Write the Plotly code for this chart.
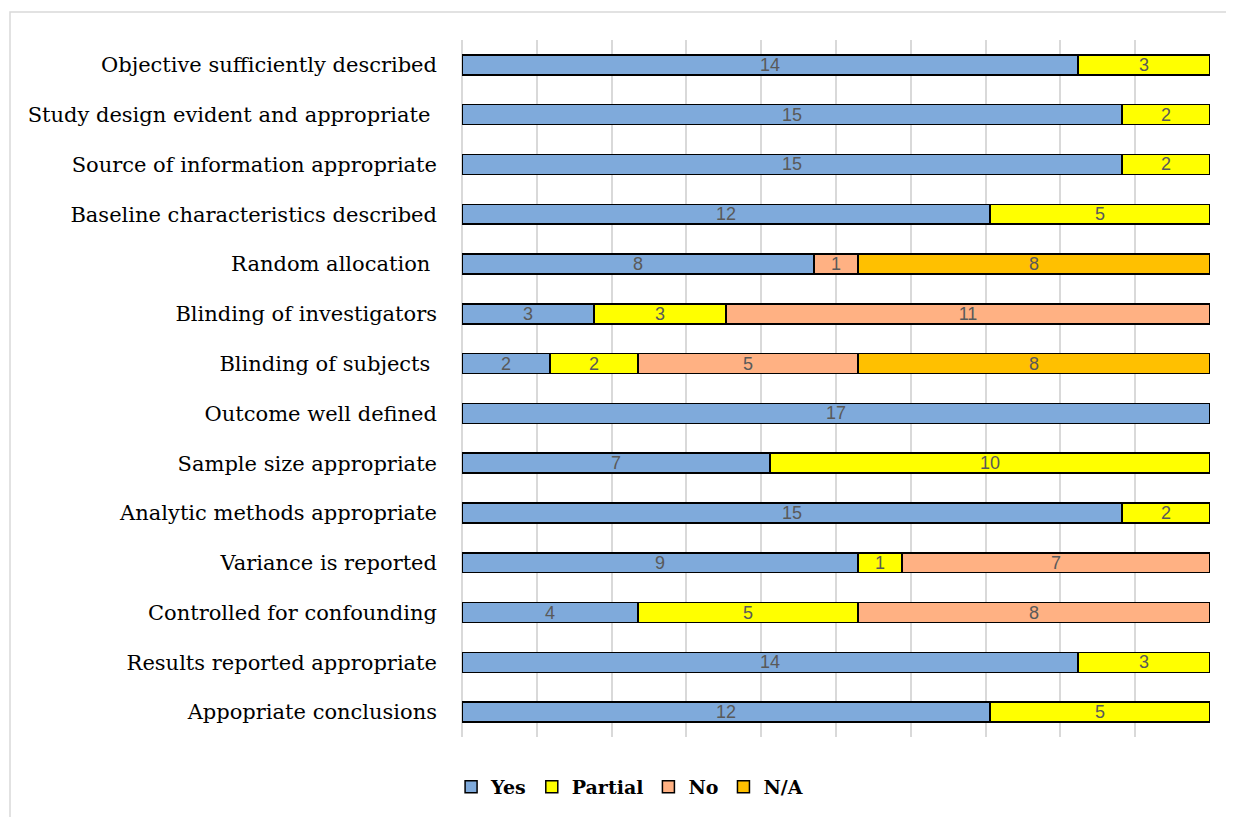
import plotly.graph_objects as go

categories = [
    "Objective sufficiently described",
    "Study design evident and appropriate ",
    "Source of information appropriate",
    "Baseline characteristics described",
    "Random allocation ",
    "Blinding of investigators",
    "Blinding of subjects ",
    "Outcome well defined",
    "Sample size appropriate",
    "Analytic methods appropriate",
    "Variance is reported",
    "Controlled for confounding",
    "Results reported appropriate",
    "Appopriate conclusions",
]
yes_vals = [14, 15, 15, 12, 8, 3, 2, 17, 7, 15, 9, 4, 14, 12]
partial_vals = [3, 2, 2, 5, None, 3, 2, None, 10, 2, 1, 5, 3, 5]
no_vals = [None, None, None, None, 1, 11, 5, None, None, None, 7, 8, None, None]
na_vals = [None, None, None, None, 8, None, 8, None, None, None, None, None, None, None]

series = [
    ("Yes", yes_vals, "#7faadb"),
    ("Partial", partial_vals, "#ffff00"),
    ("No", no_vals, "#ffb183"),
    ("N/A", na_vals, "#ffc000"),
]

W, H = 1226, 809
L, T, PW, PH = 454, 32, 748, 697

fig = go.Figure()
for name, vals, color in series:
    fig.add_trace(go.Bar(
        name=name,
        y=categories,
        x=vals,
        orientation="h",
        marker=dict(color=color, line=dict(color="#000000", width=1.5)),
        text=[("" if v is None else str(v)) for v in vals],
        textposition="inside",
        insidetextanchor="middle",
        textangle=0,
        textfont=dict(family="Liberation Sans", size=18, color="#595959"),
        width=0.4,
    ))

fig.update_layout(
    barmode="stack",
    width=W,
    height=H,
    margin=dict(l=L, r=W - L - PW, t=T, b=H - T - PH, pad=0),
    paper_bgcolor="white",
    plot_bgcolor="white",
    uniformtext=dict(minsize=18, mode="show"),
    showlegend=True,
    legend=dict(
        orientation="h",
        xref="container",
        x=0.507,
        xanchor="center",
        yref="container",
        y=1 - 779 / H,
        yanchor="middle",
        font=dict(family="DejaVu Serif", size=19, color="#000000", weight="bold"),
        traceorder="normal",
    ),
    xaxis=dict(
        range=[0, 17],
        dtick=1.7,
        tick0=0,
        showgrid=True,
        gridcolor="#d9d9d9",
        gridwidth=1.5,
        showticklabels=False,
        zeroline=True,
        zerolinecolor="#d9d9d9",
        zerolinewidth=1.5,
        showline=False,
    ),
    yaxis=dict(
        autorange="reversed",
        showgrid=False,
        tickfont=dict(family="DejaVu Serif", size=21, color="#000000"),
        ticklabelstandoff=24,
        showline=False,
    ),
    shapes=[dict(
        type="rect", xref="paper", yref="paper",
        x0=(2 - L) / PW, x1=(1260 - L) / PW,
        y0=-(840 - T - PH) / PH, y1=1 + (T - 4) / PH,
        line=dict(color="#d9d9d9", width=1.5),
        fillcolor="rgba(0,0,0,0)",
        layer="below",
    )],
)

fig.write_html("out.html")
